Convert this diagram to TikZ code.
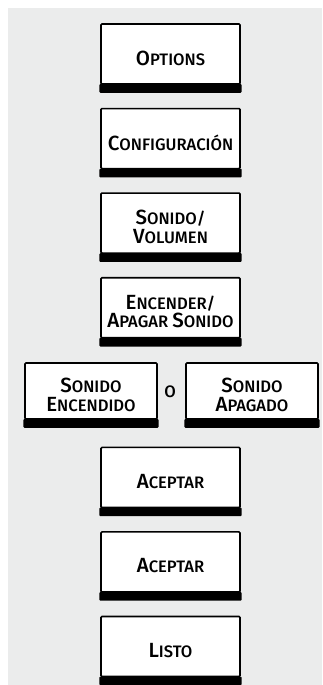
\documentclass[tikz,border=0pt]{standalone}
\usepackage{fontspec}
\setmainfont{Fira Sans Medium}
\definecolor{bgc}{RGB}{235,236,236}
\newcommand\Sc[2]{{\fontsize{20.5}{18.5}\selectfont #1}#2}
\tikzset{
  btn/.style={draw=black, fill=white, line width=1.6pt, rounded corners=1pt, minimum width=139pt, minimum height=60pt, inner sep=0pt},
  btnsmall/.style={btn, minimum width=132pt, minimum height=56pt},
  lbl/.style={align=center, inner sep=0pt, font=\fontsize{16.6}{18.5}\selectfont},
  bar/.style={fill=black, rounded corners=1pt}
}
\begin{document}
\begin{tikzpicture}[x=1pt,y=-1pt]
\useasboundingbox (0,0) rectangle (322,685);
\fill[bgc] (8,8) rectangle (322,685);
% main column
\foreach \n/\y in {b1/54, b2/138.6, b3/223.1, b4/307.7, b6/477.4, b7/561.9, b8/646.5}{
  \node[btn] (\n) at (170.5,\y) {};
  \fill[bar] ([xshift=-0.8pt,yshift=0.8pt]\n.south west) rectangle ([xshift=0.8pt,yshift=-8pt]\n.south east);
}
\node[btnsmall] (b5a) at (91,391) {};
\node[btnsmall] (b5b) at (252,391) {};
\foreach \n in {b5a,b5b}{
  \fill[bar] ([xshift=-0.8pt,yshift=0.8pt]\n.south west) rectangle ([xshift=0.8pt,yshift=-8pt]\n.south east);
}
\node[lbl] (t1) at ([yshift=-4pt]b1.center) {\Sc{O}{PTIONS}};
\node[lbl] (t2) at ([yshift=-4pt]b2.center) {\Sc{C}{ONFIGURACIÓN}};
\node[lbl] (t3) at ([yshift=-4pt]b3.center) {\Sc{S}{ONIDO/}\\\Sc{V}{OLUMEN}};
\node[lbl] (t4) at ([yshift=-4pt]b4.center) {\Sc{E}{NCENDER/}\\\Sc{A}{PAGAR} \Sc{S}{ONIDO}};
\node[lbl] (t5a) at ([yshift=-4pt]b5a.center) {\Sc{S}{ONIDO}\\\Sc{E}{NCENDIDO}};
\node[lbl] (t5b) at ([yshift=-4pt]b5b.center) {\Sc{S}{ONIDO}\\\Sc{A}{PAGADO}};
\node[lbl] (o) at (170,392) {O};
\node[lbl] (t6) at ([yshift=-4pt]b6.center) {\Sc{A}{CEPTAR}};
\node[lbl] (t7) at ([yshift=-4pt]b7.center) {\Sc{A}{CEPTAR}};
\node[lbl] (t8) at ([yshift=-4pt]b8.center) {\Sc{L}{ISTO}};
\end{tikzpicture}
\end{document}
